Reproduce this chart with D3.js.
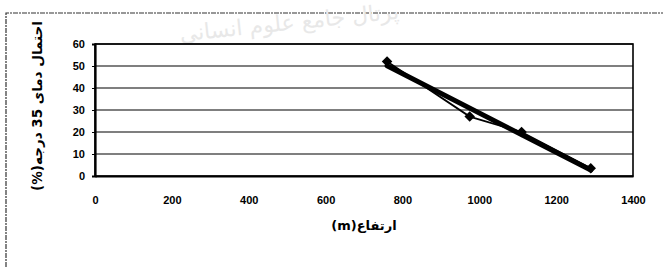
<!DOCTYPE html>
<html>
<head>
<meta charset="utf-8">
<script src="https://cdn.jsdelivr.net/npm/d3@7"></script>
<style>
  body { margin: 0; background: #fff; }
  svg { display: block; }
  .tick text { font-family: "Liberation Sans", Arial, sans-serif; font-weight: bold; font-size: 11px; fill: #000; }
</style>
</head>
<body>
<svg id="chart" width="663" height="267"></svg>
<script>
/* Data */
const altitude = [760, 975, 1110, 1290];
const probability = [52, 27, 20, 3.5];
const xTicks = [0, 200, 400, 600, 800, 1000, 1200, 1400];
const yTicks = [0, 10, 20, 30, 40, 50, 60];
const xTitle = "ارتفاع(m)";
const yTitle = "احتمال دمای 35 درجه(%)";
const watermark = "پرتال جامع علوم انسانی";

const svg = d3.select("#chart");
const W = 663, H = 267;
const plot = { left: 95, right: 633, top: 44, bottom: 176 };

// outer frame (scanned, dotted)
svg.append("path")
	.attr("d", `M6,${H} L6,13 L${W},13`)
	.attr("fill", "none")
	.attr("stroke", "#333")
	.attr("stroke-width", 1.2)
	.attr("stroke-dasharray", "5,1,2,1");

// faded watermark
svg.append("text")
	.attr("x", 290).attr("y", 30)
	.attr("text-anchor", "middle")
	.attr("direction", "rtl")
	.attr("font-family", "DejaVu Sans, sans-serif")
	.attr("font-size", 22)
	.attr("fill", "#e8e8e8")
	.attr("transform", "rotate(-6,290,30)")
	.text(watermark);

const x = d3.scaleLinear().domain([0, 1400]).range([plot.left, plot.right]);
const y = d3.scaleLinear().domain([0, 60]).range([plot.bottom, plot.top]);

// horizontal gridlines
svg.append("g")
	.selectAll("line")
	.data(yTicks.filter(d => d > 0))
	.join("line")
	.attr("x1", plot.left).attr("x2", plot.right)
	.attr("y1", d => y(d)).attr("y2", d => y(d))
	.attr("stroke", "#000")
	.attr("stroke-width", 1.1);

// plot border
svg.append("rect")
	.attr("x", plot.left).attr("y", plot.top)
	.attr("width", plot.right - plot.left)
	.attr("height", plot.bottom - plot.top)
	.attr("fill", "none")
	.attr("stroke", "#000")
	.attr("stroke-width", 1.6);

// y axis
const yAxis = svg.append("g")
	.attr("transform", `translate(${plot.left},0)`)
	.call(d3.axisLeft(y).tickValues(yTicks).tickSize(3).tickPadding(7));
yAxis.select(".domain").attr("stroke-width", 2.2);

// x axis (labels only, ticks hidden)
const xAxis = svg.append("g")
	.attr("transform", `translate(0,${plot.bottom})`)
	.call(d3.axisBottom(x).tickValues(xTicks).tickFormat(d3.format("d")).tickSize(0).tickPadding(20));
xAxis.select(".domain").attr("stroke-width", 2.2);

// linear trend line from the points
const mx = d3.mean(altitude), my = d3.mean(probability);
const sxy = d3.sum(altitude, (a, i) => (a - mx) * (probability[i] - my));
const sxx = d3.sum(altitude, a => (a - mx) * (a - mx));
const slope = sxy / sxx, icpt = my - slope * mx;
const trendX = [d3.min(altitude), d3.max(altitude)];
svg.append("line")
	.attr("x1", x(trendX[0])).attr("y1", y(icpt + slope * trendX[0]))
	.attr("x2", x(trendX[1])).attr("y2", y(icpt + slope * trendX[1]))
	.attr("stroke", "#000")
	.attr("stroke-width", 5)
	.attr("stroke-linecap", "round");

// data series
const pts = altitude.map((a, i) => [a, probability[i]]);
svg.append("path")
	.datum(pts)
	.attr("fill", "none")
	.attr("stroke", "#000")
	.attr("stroke-width", 1.8)
	.attr("d", d3.line().x(d => x(d[0])).y(d => y(d[1])));

svg.append("g")
	.selectAll("path")
	.data(pts)
	.join("path")
	.attr("d", d3.symbol().type(d3.symbolSquare).size(55))
	.attr("transform", d => `translate(${x(d[0])},${y(d[1])}) rotate(45)`)
	.attr("fill", "#000");

// axis titles
svg.append("text")
	.attr("x", (plot.left + plot.right) / 2)
	.attr("y", 230)
	.attr("text-anchor", "middle")
	.attr("direction", "rtl")
	.attr("font-family", "DejaVu Sans, sans-serif")
	.attr("font-weight", "bold")
	.attr("font-size", 13)
	.text(xTitle);

svg.append("text")
	.attr("transform", "translate(42,106) rotate(-90)")
	.attr("text-anchor", "middle")
	.attr("direction", "rtl")
	.attr("font-family", "DejaVu Sans, sans-serif")
	.attr("font-weight", "bold")
	.attr("font-size", 13.5)
	.text(yTitle);
</script>
</body>
</html>
